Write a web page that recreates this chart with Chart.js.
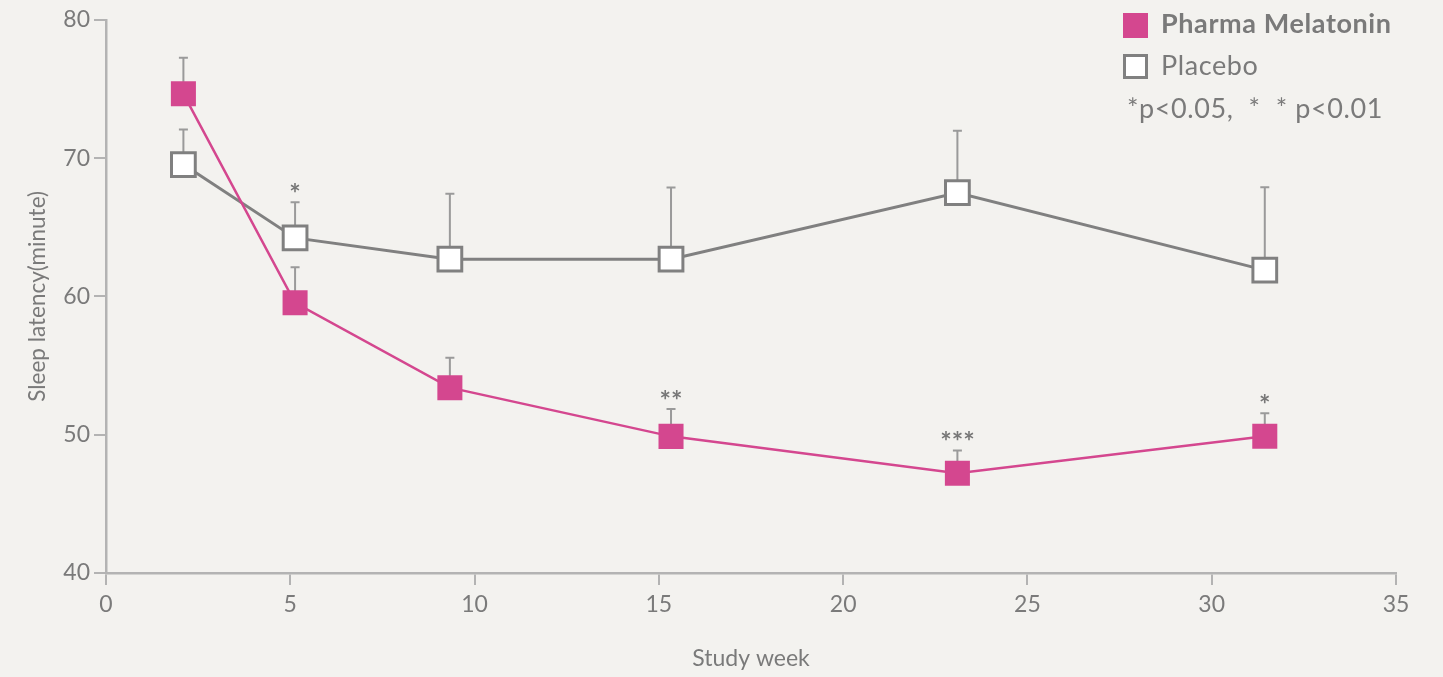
<!DOCTYPE html>
<html>
<head>
<meta charset="utf-8">
<script src="https://cdn.jsdelivr.net/npm/chart.js@4"></script>
<style>
  html, body { margin:0; padding:0; background:#f3f2ef; }
  #wrap { position:relative; width:1443px; height:677px; background:#f3f2ef; }
  canvas { position:absolute; left:0; top:0; }
  .lg { position:absolute; font-family:Lato, sans-serif; color:#7a7a7a; font-size:27px; line-height:1.2; white-space:pre; letter-spacing:0.6px; }
  .sw { position:absolute; box-sizing:border-box; width:25px; height:25px; }
</style>
</head>
<body>
<div id="wrap">
  <canvas id="c" width="1443" height="677"></canvas>
  <div class="sw" style="left:1123px; top:13px; background:#d4478f;"></div>
  <div class="lg" style="left:1161px; top:7px; font-weight:bold;">Pharma Melatonin</div>
  <div class="sw" style="left:1123px; top:54px; background:#fff; border:3px solid #808080;"></div>
  <div class="lg" style="left:1161px; top:49px;">Placebo</div>
  <div class="lg" style="left:1127px; top:92px;">*p&lt;0.05,  *  * p&lt;0.01</div>
</div>
<script>
// Study weeks (x positions)
const weeks = [2.1, 5.13, 9.33, 15.33, 23.1, 31.44];
// Mean sleep latency (minutes)
const melatonin = [74.65, 59.54, 53.4, 49.88, 47.22, 49.89];
const placebo   = [69.53, 64.23, 62.69, 62.69, 67.5, 61.9];
// Upper error bar ends (minutes)
const melatoninErrTop = [77.26, 62.11, 55.56, 51.86, 48.86, 51.55];
const placeboErrTop   = [72.06, 66.8, 67.43, 67.87, 71.98, 67.9];
// Significance marks
const melatoninSig = ['', '', '', '**', '***', '*'];
const placeboSig   = ['', '*', '', '', '', ''];
// Axis ticks
const xTicks = [0, 5, 10, 15, 20, 25, 30, 35];
const yTicks = [40, 50, 60, 70, 80];

const PINK = '#d4478f';
const GRAY = '#808080';
const AXIS = '#b3b3b3';
const TEXT = '#7a7a7a';

const toXY = (ys) => weeks.map((w, i) => ({x: w, y: ys[i]}));

const errorBars = {
  id: 'errorBars',
  beforeDatasetsDraw(chart) {
    const {ctx, scales:{x, y}} = chart;
    const sets = [[melatonin, melatoninErrTop], [placebo, placeboErrTop]];
    ctx.save();
    ctx.strokeStyle = '#9a9a9a';
    ctx.lineWidth = 2;
    sets.forEach(([vals, tops]) => {
      vals.forEach((v, i) => {
        const px = x.getPixelForValue(weeks[i]);
        const py = y.getPixelForValue(v);
        const pt = y.getPixelForValue(tops[i]);
        ctx.beginPath();
        ctx.moveTo(px, py);
        ctx.lineTo(px, pt);
        ctx.moveTo(px - 4.5, pt);
        ctx.lineTo(px + 4.5, pt);
        ctx.stroke();
      });
    });
    ctx.restore();
  },
  afterDatasetsDraw(chart) {
    const {ctx, scales:{x, y}} = chart;
    ctx.save();
    ctx.fillStyle = '#777777';
    ctx.font = 'bold 27px Lato, sans-serif';
    ctx.textAlign = 'center';
    ctx.textBaseline = 'middle';
    [[melatoninSig, melatoninErrTop], [placeboSig, placeboErrTop]].forEach(([sig, tops]) => {
      sig.forEach((s, i) => {
        if (!s) return;
        const px = x.getPixelForValue(weeks[i]);
        const pt = y.getPixelForValue(tops[i]);
        ctx.fillText(s, px, pt - 8);
      });
    });
    ctx.restore();
  }
};

new Chart(document.getElementById('c'), {
  type: 'line',
  data: {
    datasets: [
      {
        label: 'Pharma Melatonin',
        data: toXY(melatonin),
        borderColor: PINK,
        borderWidth: 2.5,
        backgroundColor: PINK,
        pointStyle: 'rect',
        pointRadius: 17.7,
        pointBorderWidth: 0,
        pointBackgroundColor: PINK,
        tension: 0
      },
      {
        label: 'Placebo',
        data: toXY(placebo),
        borderColor: GRAY,
        borderWidth: 3,
        pointStyle: 'rect',
        pointRadius: 16.8,
        pointBorderWidth: 3,
        pointBorderColor: GRAY,
        pointBackgroundColor: '#ffffff',
        tension: 0
      }
    ]
  },
  options: {
    responsive: false,
    animation: false,
    events: [],
    layout: { padding: { left: 0, top: 18, right: 47, bottom: 0 } },
    plugins: { legend: { display: false }, tooltip: { enabled: false } },
    scales: {
      x: {
        type: 'linear',
        min: 0, max: 35,
        afterBuildTicks(s) { s.ticks = xTicks.map(v => ({value: v})); },
        afterFit(s) { s.height = 104; },
        grid: { display: true, drawOnChartArea: false, drawTicks: true, tickLength: 12, color: AXIS, lineWidth: 2 },
        border: { display: true, color: AXIS, width: 2.5 },
        ticks: { color: TEXT, font: { family: 'Lato', size: 23 }, padding: 6, maxRotation: 0 },
        title: { display: true, text: 'Study week', color: TEXT, font: { family: 'Lato', size: 23 }, padding: { top: 0, bottom: 5 } }
      },
      y: {
        min: 40, max: 80,
        afterBuildTicks(s) { s.ticks = yTicks.map(v => ({value: v})); },
        afterFit(s) { s.width = 106; },
        grid: { display: true, drawOnChartArea: false, drawTicks: true, tickLength: 12, color: AXIS, lineWidth: 2 },
        border: { display: true, color: AXIS, width: 2.5 },
        ticks: { color: TEXT, font: { family: 'Lato', size: 23 }, padding: 4 },
        title: { display: true, text: 'Sleep latency(minute)', color: TEXT, font: { family: 'Lato', size: 22.5 }, padding: { top: 24, bottom: 0 } }
      }
    }
  },
  plugins: [errorBars]
});
</script>
</body>
</html>
